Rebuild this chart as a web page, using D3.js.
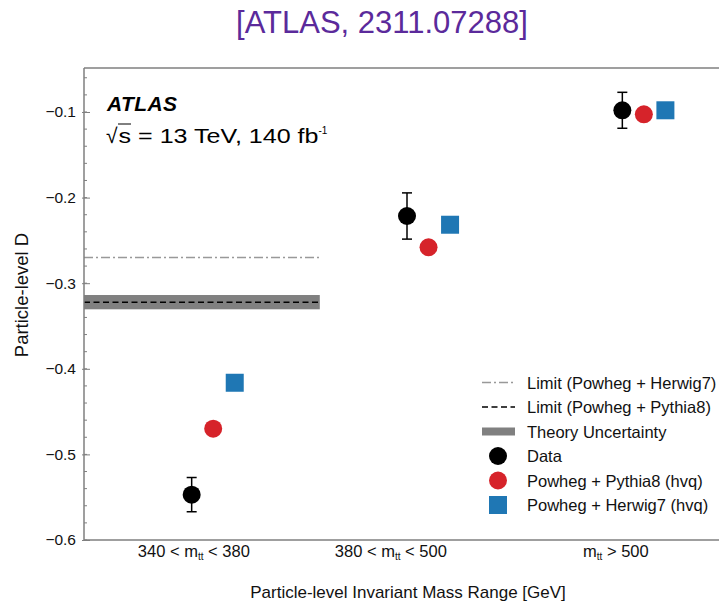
<!DOCTYPE html>
<html><head><meta charset="utf-8">
<script src="https://cdn.jsdelivr.net/npm/d3@7/dist/d3.min.js"></script>
<style>body{margin:0;background:#fff}svg{display:block;font-family:"Liberation Sans",Arial,sans-serif}</style>
</head><body><svg id="c" width="719" height="603"></svg>
<script>
const categories = ["340 < m_tt < 380", "380 < m_tt < 500", "m_tt > 500"];
const catIndex = [1, 2, 3];
const labelPos = [1.01, 1.925, 2.97];
const dataValues = [-0.547, -0.2215, -0.098];
const dataErrors = [0.020, 0.027, 0.021];
const pythiaValues = [-0.470, -0.258, -0.1027];
const herwigValues = [-0.4163, -0.2317, -0.098];
const limitHerwig = -0.27;
const limitPythia = -0.3223;
const theoryBand = [-0.3305, -0.3138];
const limitRange = [0.5, 1.595];
const yTicks = [-0.6, -0.5, -0.4, -0.3, -0.2, -0.1];
const legendLabels = ["Limit (Powheg + Herwig7)", "Limit (Powheg + Pythia8)", "Theory Uncertainty", "Data", "Powheg + Pythia8 (hvq)", "Powheg + Herwig7 (hvq)"];

const svg = d3.select("#c");
const L = 84, T = 68, B = 540, R = 730;
const x = d3.scaleLinear().domain([0.5, 3.5]).range([L, R]);
const y = d3.scaleLinear().domain([-0.6, -0.0486]).range([B, T]);
const off = 0.1;
const axisCol = "#7f7f7f";

// title
svg.append("text").attr("x", 382).attr("y", 33).attr("text-anchor", "middle")
  .attr("fill", "#5b2a9b").attr("font-size", 31).text("[ATLAS, 2311.07288]");

// theory band & limits
svg.append("rect").attr("x", x(limitRange[0])).attr("width", x(limitRange[1]) - x(limitRange[0]))
  .attr("y", y(theoryBand[1])).attr("height", y(theoryBand[0]) - y(theoryBand[1])).attr("fill", "#808080");
svg.append("line").attr("x1", x(limitRange[0])).attr("x2", x(limitRange[1]))
  .attr("y1", y(limitHerwig)).attr("y2", y(limitHerwig))
  .attr("stroke", "#999").attr("stroke-width", 1.4).attr("stroke-dasharray", "9,3,2,3");
svg.append("line").attr("x1", x(limitRange[0])).attr("x2", x(limitRange[1]))
  .attr("y1", y(limitPythia)).attr("y2", y(limitPythia))
  .attr("stroke", "#000").attr("stroke-width", 1.6).attr("stroke-dasharray", "6,3.5");

// axes frame
svg.append("line").attr("x1", L).attr("x2", 719).attr("y1", T).attr("y2", T).attr("stroke", axisCol).attr("stroke-width", 1.5);
svg.append("line").attr("x1", L).attr("x2", 719).attr("y1", B).attr("y2", B).attr("stroke", axisCol).attr("stroke-width", 1.5);
svg.append("line").attr("x1", L).attr("x2", L).attr("y1", T).attr("y2", B).attr("stroke", axisCol).attr("stroke-width", 1.5);

// y axis ticks
const minor = d3.range(-0.6, -0.04, 0.02).filter(v => y(v) >= T);
svg.append("g").selectAll("line").data(minor).join("line")
  .attr("x1", L).attr("x2", L + 3).attr("y1", d => y(d)).attr("y2", d => y(d))
  .attr("stroke", axisCol).attr("stroke-width", 1);
const yAxis = d3.axisLeft(y).tickValues(yTicks).tickFormat(d3.format(".1f")).tickSizeInner(-6).tickSizeOuter(0).tickPadding(8);
const gy = svg.append("g").attr("transform", `translate(${L},0)`).call(yAxis);
gy.select(".domain").remove();
gy.selectAll(".tick line").attr("stroke", axisCol).attr("x1", -2);
gy.selectAll(".tick text").attr("font-size", 15.5).attr("fill", "#111")
  .attr("font-family", "Liberation Sans, Arial, sans-serif").text(d => d3.format(".1f")(d).replace("-", "\u2013"));

// x tick labels
const xl = svg.append("g").selectAll("text").data(labelPos).join("text")
  .attr("x", d => x(d)).attr("y", 557).attr("text-anchor", "middle")
  .attr("font-size", 16.5).attr("fill", "#111");
xl.each(function(d, i) {
  const t = d3.select(this);
  const parts = categories[i].split("m_tt");
  if (parts[0]) t.append("tspan").text(parts[0]);
  t.append("tspan").text("m");
  t.append("tspan").attr("font-size", 10).attr("dy", 3).text("tt");
  t.append("tspan").attr("dy", -3).text(parts[1]);
});

// axis titles
svg.append("text").attr("x", 408).attr("y", 598).attr("text-anchor", "middle").attr("font-size", 17).attr("fill", "#111")
  .text("Particle-level Invariant Mass Range [GeV]");
svg.append("text").attr("transform", "translate(28,295) rotate(-90)").attr("text-anchor", "middle")
  .attr("font-size", 18.5).attr("fill", "#111").text("Particle-level D");

// ATLAS label
svg.append("text").attr("x", 107).attr("y", 111).attr("font-size", 21).attr("font-weight", "bold")
  .attr("font-style", "italic").attr("fill", "#000").attr("textLength", 70).attr("lengthAdjust", "spacing").text("ATLAS");
const sq = svg.append("text").attr("x", 106).attr("y", 143).attr("font-size", 21).attr("fill", "#000");
sq.append("tspan").attr("font-size", 21).text("\u221A");
sq.append("tspan").attr("dx", 1).attr("textLength", 200).attr("lengthAdjust", "spacingAndGlyphs").text("s = 13 TeV, 140 fb");
sq.append("tspan").attr("font-size", 10).attr("dy", -9).text("-1");
svg.append("line").attr("x1", 118).attr("x2", 131).attr("y1", 124).attr("y2", 124).attr("stroke", "#000").attr("stroke-width", 1);

// data points
const g = svg.append("g");
g.selectAll(".err").data(catIndex).join("g").each(function(d, i) {
  const s = d3.select(this), cx = x(d), y1 = y(dataValues[i] + dataErrors[i]), y2 = y(dataValues[i] - dataErrors[i]);
  s.append("line").attr("x1", cx).attr("x2", cx).attr("y1", y1).attr("y2", y2).attr("stroke", "#000").attr("stroke-width", 1.5);
  s.append("line").attr("x1", cx - 5).attr("x2", cx + 5).attr("y1", y1).attr("y2", y1).attr("stroke", "#000").attr("stroke-width", 1.5);
  s.append("line").attr("x1", cx - 5).attr("x2", cx + 5).attr("y1", y2).attr("y2", y2).attr("stroke", "#000").attr("stroke-width", 1.5);
});
g.selectAll(".d").data(catIndex).join("circle").attr("cx", d => x(d)).attr("cy", (d, i) => y(dataValues[i])).attr("r", 9).attr("fill", "#000");
g.selectAll(".p").data(catIndex).join("circle").attr("cx", d => x(d + off)).attr("cy", (d, i) => y(pythiaValues[i])).attr("r", 9).attr("fill", "#d6232a");
g.selectAll(".h").data(catIndex).join("rect").attr("x", d => x(d + 2 * off) - 9).attr("y", (d, i) => y(herwigValues[i]) - 9)
  .attr("width", 18).attr("height", 18).attr("fill", "#1f77b4");

// legend
const lx = 482, ltx = 527, ly0 = 382.5, lstep = 24.5;
const lg = svg.append("g");
lg.selectAll("text").data(legendLabels).join("text").attr("x", ltx).attr("y", (d, i) => ly0 + i * lstep + 6)
  .attr("font-size", 16.5).attr("fill", "#111").text(d => d);
lg.append("line").attr("x1", lx).attr("x2", lx + 33).attr("y1", ly0).attr("y2", ly0).attr("stroke", "#999").attr("stroke-width", 1.4).attr("stroke-dasharray", "9,3,2,3");
lg.append("line").attr("x1", lx).attr("x2", lx + 33).attr("y1", ly0 + lstep).attr("y2", ly0 + lstep).attr("stroke", "#000").attr("stroke-width", 1.6).attr("stroke-dasharray", "6,3.5");
lg.append("rect").attr("x", lx).attr("y", ly0 + 2 * lstep - 4).attr("width", 33).attr("height", 8).attr("fill", "#808080");
lg.append("circle").attr("cx", lx + 16).attr("cy", ly0 + 3 * lstep).attr("r", 9).attr("fill", "#000");
lg.append("circle").attr("cx", lx + 16).attr("cy", ly0 + 4 * lstep).attr("r", 9).attr("fill", "#d6232a");
lg.append("rect").attr("x", lx + 7).attr("y", ly0 + 5 * lstep - 9).attr("width", 18).attr("height", 18).attr("fill", "#1f77b4");
</script></body></html>
